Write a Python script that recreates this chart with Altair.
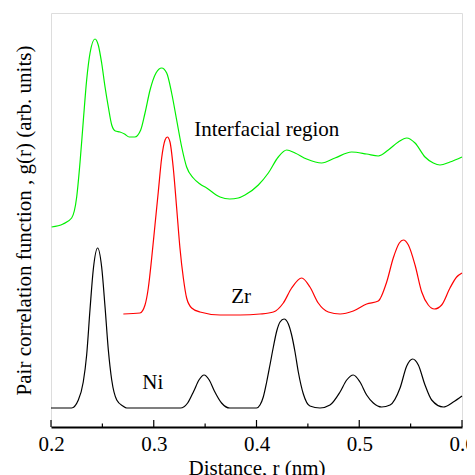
import altair as alt
import pandas as pd

# Ni partial g(r)
ni_r = [0.200, 0.220, 0.2266, 0.2314, 0.2347, 0.238, 0.2412, 0.2454, 0.2493, 0.2526, 0.2558,
        0.2591, 0.264, 0.270, 0.2737, 0.326, 0.333, 0.339, 0.344, 0.349, 0.354, 0.359, 0.366,
        0.374, 0.400, 0.4034, 0.4066, 0.4099, 0.4131, 0.4164, 0.4197, 0.4229, 0.4268, 0.431,
        0.4342, 0.4375, 0.4407, 0.4456, 0.452, 0.4618, 0.4715, 0.4813, 0.4878, 0.4942, 0.5007,
        0.5072, 0.5137, 0.5218, 0.530, 0.5397, 0.5462, 0.552, 0.5575, 0.564, 0.5705, 0.5818,
        0.5915, 0.600]
ni_g = [19, 19, 27, 45, 72, 118, 158, 179, 160, 120, 77,
        47, 27, 21, 19, 19, 24, 36, 47, 52, 47, 36, 24,
        19, 19, 22, 30, 45, 62, 80, 96, 105, 108, 103,
        92, 75, 55, 33, 21, 19, 22, 35, 47, 52, 45,
        32, 24, 20, 22, 39, 61, 68, 62, 42, 27, 20,
        25, 31]

# Zr partial g(r)
zr_r = [0.2704, 0.2866, 0.2915, 0.2947, 0.298, 0.3012, 0.3044, 0.3077, 0.311, 0.3132, 0.3158,
        0.319, 0.3223, 0.3255, 0.3288, 0.332, 0.3369, 0.345, 0.3645, 0.384, 0.4034, 0.4164,
        0.4261, 0.4342, 0.444, 0.452, 0.4601, 0.4699, 0.4813, 0.4942, 0.5072, 0.5185, 0.5267,
        0.5331, 0.539, 0.5429, 0.5478, 0.5543, 0.5608, 0.5672, 0.5731, 0.5802, 0.5883, 0.5948,
        0.600]
zr_g = [113, 114, 122, 139, 169, 202, 235, 269, 287, 290, 285,
        259, 219, 179, 149, 129, 119, 115, 112, 112, 113, 115,
        124, 139, 149, 140, 124, 115, 113, 116, 123, 126, 145,
        169, 184, 187, 182, 162, 135, 122, 118, 122, 139, 150,
        154]

# Interfacial region g(r)
if_r = [0.2006, 0.2117, 0.2201, 0.225, 0.2282, 0.2315, 0.2347, 0.238, 0.2428, 0.246, 0.2493,
        0.2526, 0.2558, 0.2591, 0.2626, 0.2671, 0.2716, 0.2762, 0.2815, 0.2873, 0.2915, 0.2964,
        0.3022, 0.3077, 0.3126, 0.3174, 0.3223, 0.3272, 0.332, 0.3385, 0.345, 0.3515, 0.3645,
        0.374, 0.3822, 0.3888, 0.4018, 0.4115, 0.4212, 0.4294, 0.4375, 0.4488, 0.4634, 0.4764,
        0.4926, 0.5072, 0.5185, 0.5283, 0.538, 0.5462, 0.5543, 0.564, 0.5721, 0.5786, 0.5883,
        0.600]
if_g = [200, 203, 209, 230, 264, 307, 347, 374, 388, 382, 364,
        340, 320, 302, 296, 295, 293, 290, 290, 297, 314, 337,
        354, 359, 354, 334, 307, 280, 260, 249, 243, 239, 230,
        228, 229, 232, 242, 254, 270, 277, 274, 268, 264, 269,
        275, 273, 271, 277, 285, 289, 284, 270, 264, 262, 265,
        270]

series_names = ["Ni", "Zr", "Interfacial region"]
series_colors = ["#000000", "#ff0000", "#00f000"]

label_text = ["Interfacial region", "Zr", "Ni"]
label_r = [0.410, 0.385, 0.299]
label_g = [297, 130, 44]

major_ticks = [0.2, 0.3, 0.4, 0.5, 0.6]
minor_ticks = [0.25, 0.35, 0.45, 0.55]

FONT = "Liberation Serif"
FS = 21

rows = []
for name, rs, gs in [("Ni", ni_r, ni_g), ("Zr", zr_r, zr_g), ("Interfacial region", if_r, if_g)]:
    for r, g in zip(rs, gs):
        rows.append({"r": r, "g": g, "series": name})
df = pd.DataFrame(rows)

xscale = alt.Scale(domain=[0.2, 0.6], nice=False, zero=False)
yscale = alt.Scale(domain=[0, 414], nice=False, zero=True)

lines = alt.Chart(df).mark_line(interpolate="monotone", strokeWidth=1.2).encode(
    x=alt.X("r:Q", scale=xscale,
            axis=alt.Axis(title="Distance, r (nm)", values=major_ticks, format=".1f",
                          ticks=False, grid=False, domainColor="black", domainWidth=2,
                          labelFont=FONT, labelFontSize=FS, labelColor="black",
                          labelPadding=6, titleFont=FONT, titleFontSize=FS,
                          titleFontWeight="normal", titleColor="black", titlePadding=3,
                          labelFlush=False)),
    y=alt.Y("g:Q", scale=yscale,
            axis=alt.Axis(title="Pair correlation function , g(r)  (arb. units)",
                          labels=False, ticks=False, grid=False, domain=False,
                          titleFont=FONT, titleFontSize=FS, titleFontWeight="normal",
                          titleColor="black", titlePadding=17)),
    color=alt.Color("series:N", scale=alt.Scale(domain=series_names, range=series_colors),
                    legend=None),
    detail="series:N",
)

labels_df = pd.DataFrame({"r": label_r, "g": label_g, "text": label_text})
labels = alt.Chart(labels_df).mark_text(font=FONT, fontSize=FS, color="black",
                                        align="center", baseline="middle").encode(
    x=alt.X("r:Q", scale=xscale), y=alt.Y("g:Q", scale=yscale), text="text:N")

maj_df = pd.DataFrame({"r": major_ticks})
min_df = pd.DataFrame({"r": minor_ticks})
maj = alt.Chart(maj_df).mark_rule(color="black", strokeWidth=1.2).encode(
    x=alt.X("r:Q", scale=xscale), y=alt.value(414), y2=alt.value(407))
mnr = alt.Chart(min_df).mark_rule(color="black", strokeWidth=1.2).encode(
    x=alt.X("r:Q", scale=xscale), y=alt.value(414), y2=alt.value(410.5))

chart = alt.layer(lines, labels, maj, mnr).properties(
    width=411, height=414,
    autosize=alt.AutoSizeParams(type="none"),
    padding={"left": 43, "top": 5, "right": 5, "bottom": 48},
).configure_view(stroke="black", strokeWidth=1.5).configure(background="white")

chart.save("out.html", embed_options={"renderer": "svg", "actions": False})
